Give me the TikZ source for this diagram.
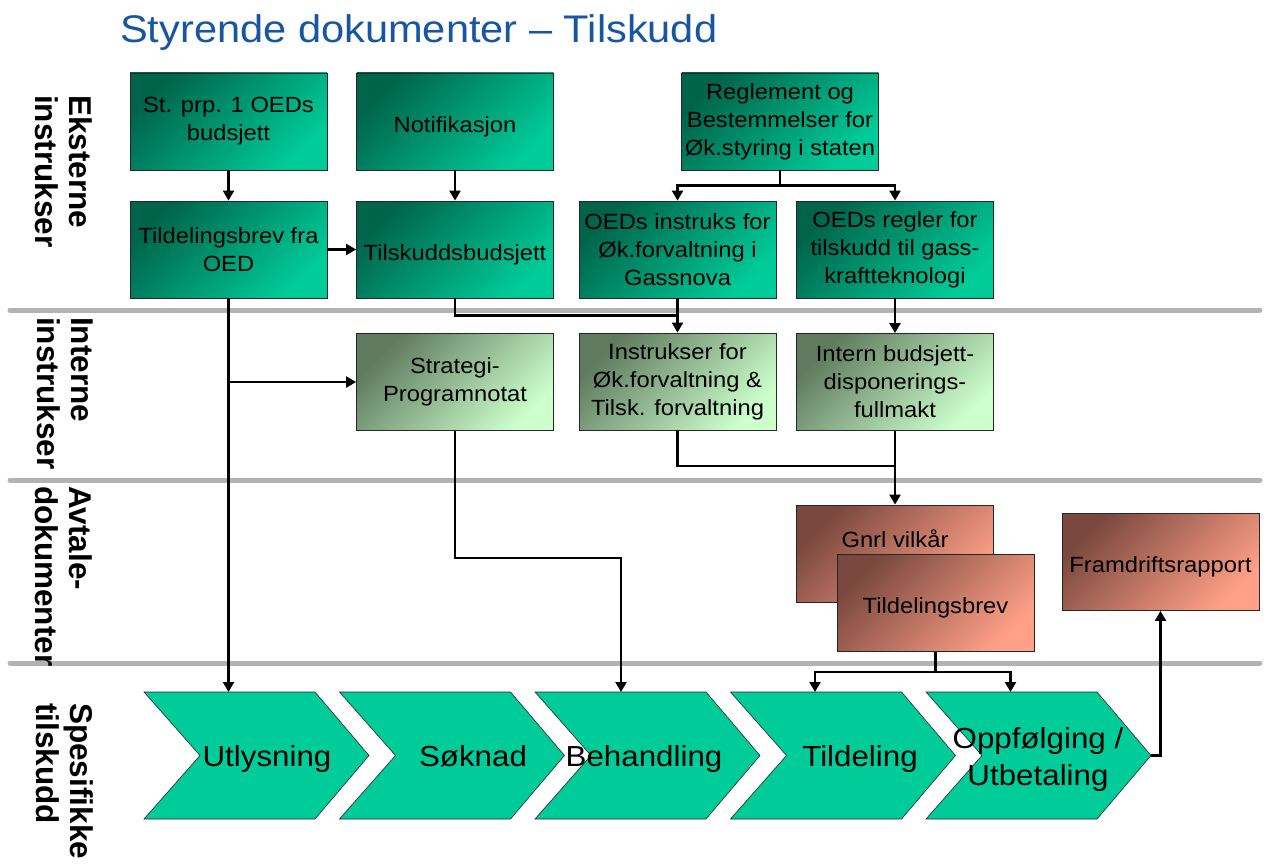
\documentclass[tikz,border=0pt]{standalone}
\usepackage{fontspec}
\setmainfont{Liberation Sans}[FakeStretch=1.08]
\newfontfamily\sidefont{Liberation Sans}
\usetikzlibrary{arrows.meta,calc}

\definecolor{titleblue}{RGB}{24,86,160}
\definecolor{tdark}{RGB}{0,100,75}
\definecolor{tlight}{RGB}{0,204,153}
\definecolor{gdark}{RGB}{95,122,95}
\definecolor{glight}{RGB}{204,255,204}
\definecolor{rdark}{RGB}{122,72,62}
\definecolor{rlight}{RGB}{255,160,135}
\definecolor{chevfill}{RGB}{0,204,153}
\definecolor{sepgray}{RGB}{179,179,179}

\begin{document}
\begin{tikzpicture}[x=1pt,y=-1pt,
  box/.style={draw=black!85, line width=0.8pt, minimum width=197pt, minimum height=97pt,
    inner sep=0pt, align=center, font=\fontsize{22}{28}\selectfont,
    execute at begin node={\rule{0pt}{26pt}}},
  ext/.style={box, top color=tdark, bottom color=tlight, shading angle=45},
  int/.style={box, top color=gdark, bottom color=glight, shading angle=45},
  avt/.style={box, top color=rdark, bottom color=rlight, shading angle=45},
  conn/.style={line width=2.2pt, draw=black},
  arr/.style={conn, -{Triangle[length=10pt,width=11pt]}},
  seprule/.style={line width=5pt, draw=sepgray, line cap=round},
  side/.style={rotate=-90, anchor=north west, align=left, inner sep=0pt,
    font=\sidefont\bfseries\fontsize{31.5}{34}\selectfont},
  chevron/.style={fill=chevfill, draw=black!85, line width=0.6pt},
  chevtext/.style={font=\fontsize{29}{37}\selectfont, align=center, inner sep=0pt},
]
\fill[white] (0,0) rectangle (1268,864);
\useasboundingbox (0,0) rectangle (1268,864);

% title
\node[anchor=base west, text=titleblue, inner sep=0pt, font=\fontsize{38.5}{40}\selectfont]
  (title) at (120,43) {Styrende dokumenter – Tilskudd};

% separators
\draw[seprule] (10,310) -- (1260,310);
\draw[seprule] (10,480) -- (1260,480);
\draw[seprule] (10,663) -- (1260,663);

% side labels
\node[side] (s1) at (93,95) {Eksterne\\instrukser};
\node[side] (s2) at (93,317) {Interne\\instrukser};
\node[side] (s3) at (93,486) {Avtale-\\dokumenter};
\node[side] (s4) at (94,703) {Spesifikke\\tilskudd};

% external instructions
\node[ext] (A) at (228.5,121.5) {St. prp. 1 OEDs\\budsjett};
\node[ext] (C) at (455,121.5) {Notifikasjon};
\node[ext] (E) at (780,121.5) {Reglement og\\Bestemmelser for\\Øk.styring i staten};
\node[ext] (B) at (228.5,249.5) {Tildelingsbrev fra\\OED};
\node[ext] (D) at (455,249.5) {Tilskuddsbudsjett};
\node[ext] (F) at (677.5,249.5) {OEDs instruks for\\Øk.forvaltning i\\Gassnova};
\node[ext] (G) at (895,249.5) {OEDs regler for\\tilskudd til gass-\\kraftteknologi};

% internal instructions
\node[int] (H) at (455,382) {Strategi-\\Programnotat};
\node[int] (I) at (677.5,381.5) {Instrukser for\\Øk.forvaltning \&\\Tilsk. forvaltning};
\node[int] (J) at (895,382) {Intern budsjett-\\disponerings-\\fullmakt};

% agreement documents
\node[avt] (K) at (895,553.5) {};
\node[inner sep=0pt, font=\fontsize{22}{28}\selectfont] (Kt) at (895,539) {Gnrl vilkår};
\node[avt] (L) at (935.5,603) {Tildelingsbrev};
\node[avt] (M) at (1160.5,562) {Framdriftsrapport};

% chevrons
\foreach \i/\x in {1/144,2/339.5,3/535,4/730.5,5/926}{
  \draw[chevron] (\x,692) -- ++(171,0) -- ++(54,63.5) -- ++(-54,63.5) -- ++(-171,0)
    -- ++(56,-63.5) -- cycle;
  \coordinate (c\i tip) at ({\x+225},755.5);
}
\node[chevtext, anchor=base] (t1) at (267,766) {Utlysning};
\node[chevtext, anchor=base] (t2) at (473,766) {Søknad};
\node[chevtext, anchor=base] (t3) at (644,766) {Behandling};
\node[chevtext, anchor=base] (t4) at (860,766) {Tildeling};
\node[chevtext] (t5) at (1038,759) {Oppfølging /\\Utbetaling};

\coordinate (c1top) at (228.5,692);
\coordinate (c3top) at (621,692);
\coordinate (c4top) at (815,692);
\coordinate (c5top) at (1010.5,692);

% connectors
\draw[arr] (A.south) -- (B.north);
\draw[arr] (B.east) -- (D.west);
\draw[arr] (C.south) -- (D.north);
\draw[conn] (E.south) -- ++(0,15) coordinate (ej);
\draw[arr] (ej) -| (F.north);
\draw[arr] (ej) -| (G.north);
\draw[arr] (F.south) -- (I.north);
\draw[conn] (D.south) |- ($(F.south)!0.5!(I.north)$);
\draw[arr] (G.south) -- (J.north);
\draw[arr] (B.south) -- (c1top);
\draw[arr] (B.south |- H.west) -- (H.west);
\draw[arr] (H.south) -- ++(0,127) -| (c3top);
\draw[conn] (I.south) |- ($(J.south)+(0,35)$);
\draw[arr] (J.south) -- (K.north);
\draw[conn] (L.south) -- ++(0,20) coordinate (lj);
\draw[arr] (lj) -| (c4top);
\draw[arr] (lj) -| (c5top);
\draw[arr] (c5tip) -| (M.south);
\end{tikzpicture}
\end{document}
